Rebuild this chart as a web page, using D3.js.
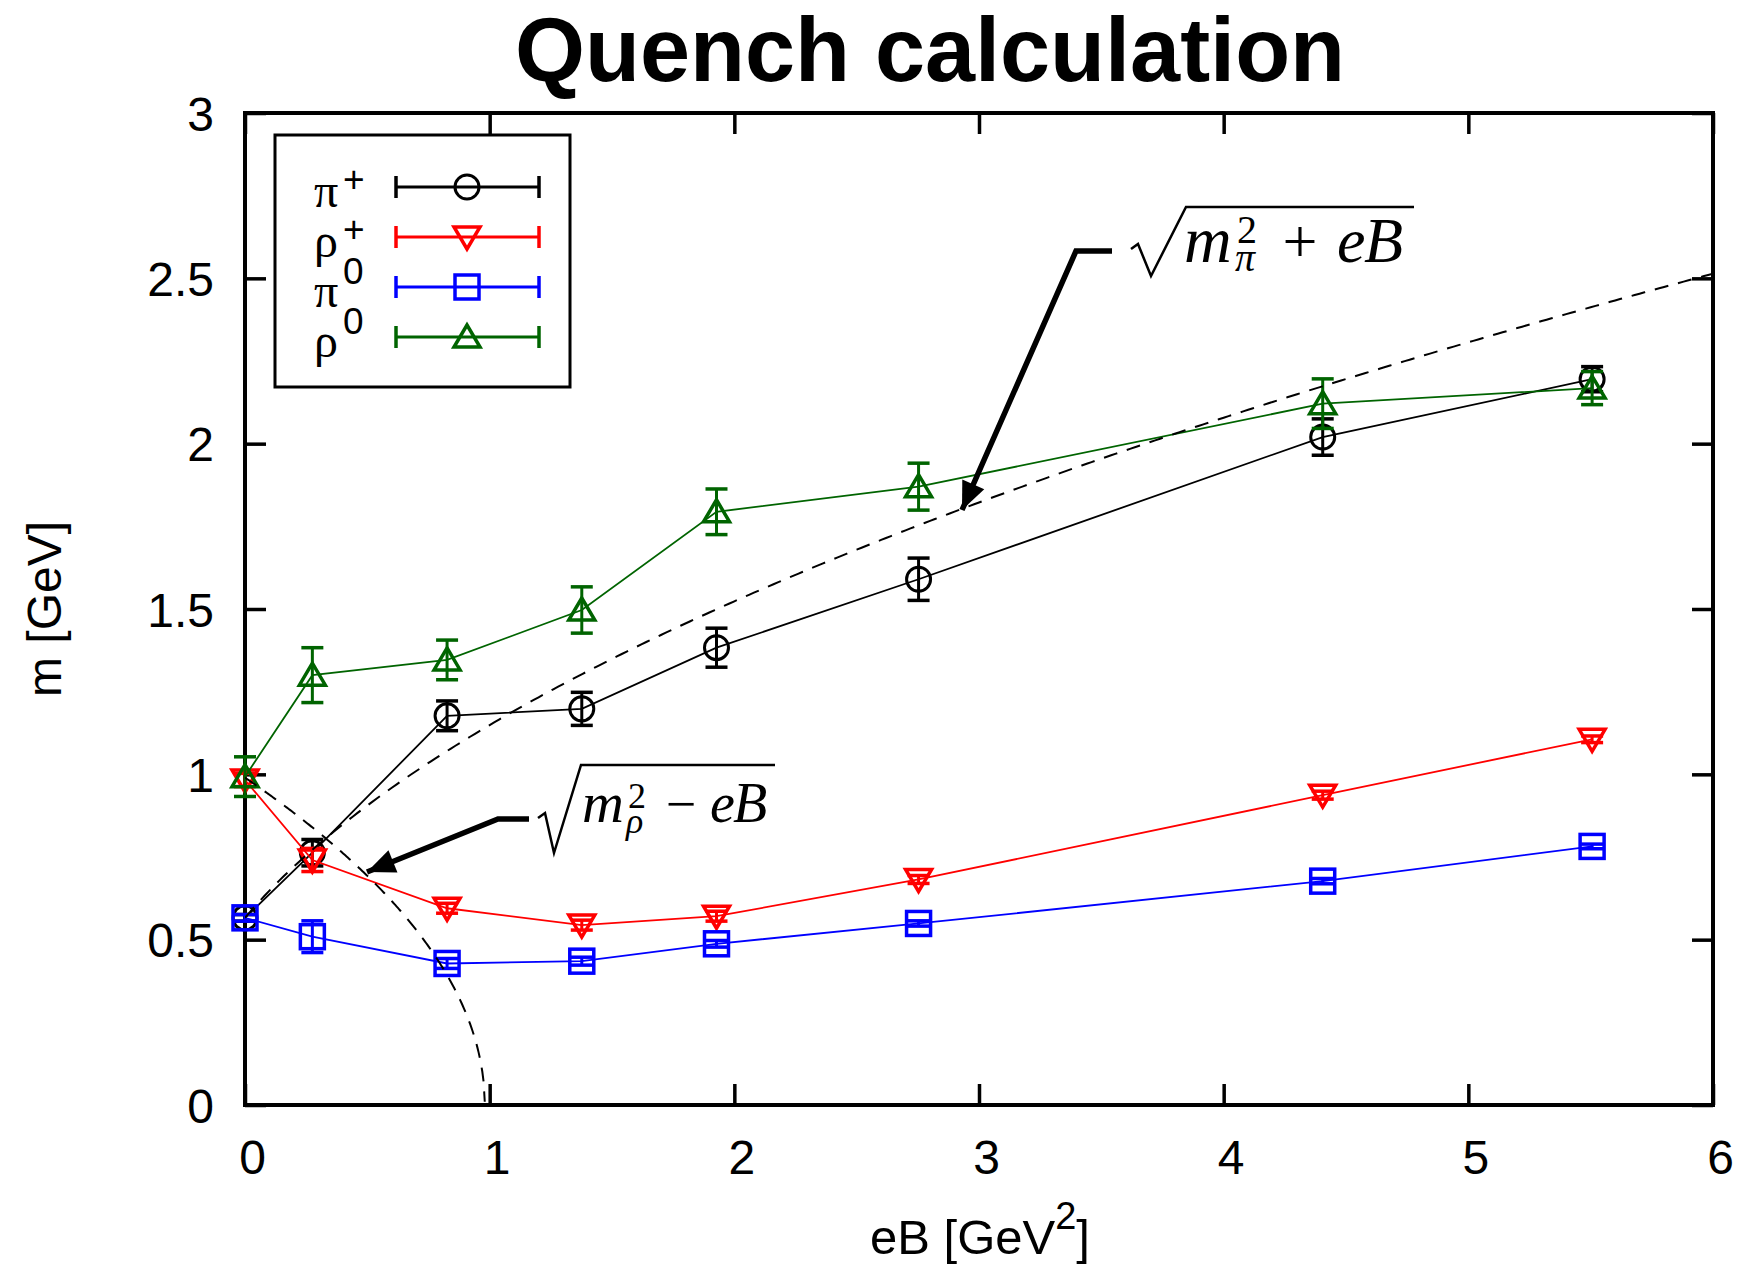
<!DOCTYPE html>
<html>
<head>
<meta charset="utf-8">
<script src="https://cdn.jsdelivr.net/npm/d3@7"></script>
<style>
  body { margin: 0; background: #fff; }
  text { font-family: "Liberation Sans", Arial, Helvetica, sans-serif; }
  .math { font-family: "Liberation Serif", "Times New Roman", serif; }
</style>
</head>
<body>
<svg id="chart" width="1742" height="1264"></svg>
<script>
// magnetic field values (multiples of the flux quantum)
const eB = [0, 0.2753, 0.8259, 1.3765, 1.9271, 2.753, 4.4048, 5.5059]

const piPlus = [0.566, 0.763, 1.177, 1.198, 1.383, 1.590, 2.020, 2.195]
const piPlusErr = [0.01, 0.04, 0.045, 0.05, 0.059, 0.064, 0.055, 0.038]
const rhoPlus = [0.983, 0.741, 0.595, 0.544, 0.571, 0.682, 0.937, 1.106]
const rhoPlusErr = [0.02, 0.035, 0.015, 0.015, 0.015, 0.012, 0.012, 0.01]
const pi0 = [0.566, 0.509, 0.428, 0.435, 0.4875, 0.549, 0.677, 0.782]
const pi0Err = [0.01, 0.048, 0.015, 0.012, 0.01, 0.008, 0.008, 0.007]
const rho0 = [0.993, 1.300, 1.346, 1.497, 1.794, 1.870, 2.121, 2.168]
const rho0Err = [0.06, 0.083, 0.06, 0.07, 0.069, 0.071, 0.075, 0.05]

const legendNames = ["π", "ρ", "π", "ρ"]
const legendSups = ["+", "+", "0", "0"]

const xTicks = [0, 1, 2, 3, 4, 5, 6]
const yTicks = [0, 0.5, 1, 1.5, 2, 2.5, 3]

// masses used in the free-particle curves
const mPi = 0.566
const mRho = 0.99

const series = [
  { values: piPlus, errs: piPlusErr, color: "#000000", marker: "circle" },
  { values: rhoPlus, errs: rhoPlusErr, color: "#ff0000", marker: "tridown" },
  { values: pi0, errs: pi0Err, color: "#0000ff", marker: "square" },
  { values: rho0, errs: rho0Err, color: "#006400", marker: "triup" },
]

const svg = d3.select("#chart")
const plotL = 245, plotR = 1713, plotT = 113, plotB = 1105

const x = d3.scaleLinear().domain([0, 6]).range([plotL, plotR])
const y = d3.scaleLinear().domain([0, 3]).range([plotB, plotT])

svg.append("defs").append("clipPath").attr("id", "plotclip")
  .append("rect")
  .attr("x", plotL).attr("y", plotT)
  .attr("width", plotR - plotL).attr("height", plotB - plotT)

// Title
svg.append("text")
  .text("Quench calculation")
  .attr("x", 930).attr("y", 81)
  .attr("text-anchor", "middle")
  .attr("font-size", 90)
  .attr("font-weight", "bold")

// Axes (ticks point inward, mirrored)
const fmt = d3.format("~g")
const tickLen = 21

const gx = svg.append("g").attr("transform", `translate(0,${plotB})`)
  .call(d3.axisBottom(x).tickValues(xTicks).tickSize(-tickLen).tickFormat(fmt))
gx.selectAll("text")
  .attr("y", 69).attr("dy", null).attr("dx", 7)
  .attr("font-size", 48).attr("fill", "#000")

svg.append("g").attr("transform", `translate(0,${plotT})`)
  .call(d3.axisTop(x).tickValues(xTicks).tickSize(-tickLen).tickFormat(""))

const gy = svg.append("g").attr("transform", `translate(${plotL},0)`)
  .call(d3.axisLeft(y).tickValues(yTicks).tickSize(-tickLen).tickFormat(fmt))
gy.selectAll("text")
  .attr("x", -31).attr("dy", "0.36em")
  .attr("font-size", 48).attr("fill", "#000")

svg.append("g").attr("transform", `translate(${plotR},0)`)
  .call(d3.axisRight(y).tickValues(yTicks).tickSize(-tickLen).tickFormat(""))

svg.selectAll(".domain").remove()
svg.selectAll(".tick line").attr("stroke", "#000").attr("stroke-width", 3.5)

// Frame
svg.append("rect")
  .attr("x", plotL).attr("y", plotT)
  .attr("width", plotR - plotL).attr("height", plotB - plotT)
  .attr("fill", "none").attr("stroke", "#000").attr("stroke-width", 4)

// Axis labels
svg.append("text")
  .text("m [GeV]")
  .attr("transform", "translate(44,609) rotate(-90)")
  .attr("text-anchor", "middle")
  .attr("dy", "0.36em")
  .attr("font-size", 48)

const xl = svg.append("text")
  .attr("x", 980).attr("y", 1254)
  .attr("text-anchor", "middle")
  .attr("font-size", 49)
xl.append("tspan").text("eB [GeV")
xl.append("tspan").text("2").attr("font-size", 38).attr("dy", -25)
xl.append("tspan").text("]").attr("dy", 25)

function drawMarker(g, type, cx, cy, color) {
  if (type === "circle") {
    g.append("circle").attr("cx", cx).attr("cy", cy).attr("r", 12)
      .attr("fill", "none").attr("stroke", color).attr("stroke-width", 3)
  } else if (type === "square") {
    g.append("rect").attr("x", cx - 12).attr("y", cy - 12)
      .attr("width", 24).attr("height", 24)
      .attr("fill", "none").attr("stroke", color).attr("stroke-width", 3.5)
  } else if (type === "tridown") {
    g.append("path")
      .attr("d", `M${cx - 13},${cy - 10}L${cx + 13},${cy - 10}L${cx},${cy + 12}Z`)
      .attr("fill", "none").attr("stroke", color).attr("stroke-width", 3.5)
  } else if (type === "triup") {
    g.append("path")
      .attr("d", `M${cx - 13},${cy + 10}L${cx + 13},${cy + 10}L${cx},${cy - 12}Z`)
      .attr("fill", "none").attr("stroke", color).attr("stroke-width", 3.5)
  }
}

function drawErrorBar(g, cx, y1, y2, color) {
  g.append("line").attr("x1", cx).attr("x2", cx).attr("y1", y1).attr("y2", y2)
    .attr("stroke", color).attr("stroke-width", 3)
  ;[y1, y2].forEach(yy => {
    g.append("line").attr("x1", cx - 11).attr("x2", cx + 11).attr("y1", yy).attr("y2", yy)
      .attr("stroke", color).attr("stroke-width", 3.5)
  })
}

// Data series
const line = d3.line().x(d => x(d[0])).y(d => y(d[1]))

series.forEach(s => {
  const g = svg.append("g")
  const pts = eB.map((e, i) => [e, s.values[i], s.errs[i]])
  g.append("path")
    .attr("d", line(pts))
    .attr("fill", "none").attr("stroke", s.color).attr("stroke-width", 1.8)
  pts.forEach(p => {
    drawErrorBar(g, x(p[0]), y(p[1] - p[2]), y(p[1] + p[2]), s.color)
    drawMarker(g, s.marker, x(p[0]), y(p[1]), s.color)
  })
})

// Free-particle curves
const dashed = svg.append("g").attr("clip-path", "url(#plotclip)")
const piCurve = d3.range(0, 6.001, 0.02).map(b => [b, Math.sqrt(mPi * mPi + b)])
const rhoCurve = d3.range(0, mRho * mRho, 0.005).map(b => [b, Math.sqrt(mRho * mRho - b)])
;[piCurve, rhoCurve].forEach(c => {
  dashed.append("path")
    .attr("d", line(c))
    .attr("fill", "none").attr("stroke", "#000").attr("stroke-width", 2)
    .attr("stroke-dasharray", "14,10")
})

// Arrows with a short horizontal lead
function arrow(pts) {
  svg.append("path")
    .attr("d", "M" + pts.map(p => p.join(",")).join("L"))
    .attr("fill", "none").attr("stroke", "#000").attr("stroke-width", 5.5)
  const [a, b] = pts.slice(-2)
  const dx = b[0] - a[0], dy = b[1] - a[1]
  const len = Math.hypot(dx, dy)
  const ux = dx / len, uy = dy / len
  const bx = b[0] - 28 * ux, by = b[1] - 28 * uy
  svg.append("path")
    .attr("d", `M${b[0]},${b[1]}L${bx - 12 * uy},${by + 12 * ux}L${bx + 12 * uy},${by - 12 * ux}Z`)
    .attr("fill", "#000")
}
arrow([[1112, 251], [1076, 251], [962, 510]])
arrow([[529, 819], [498, 819], [367, 872]])

// Math labels
function mathLabel(o) {
  const g = svg.append("g").attr("class", "math")
  g.append("path")
    .attr("d", o.radical)
    .attr("fill", "none").attr("stroke", "#000").attr("stroke-width", 2.5)
    .attr("stroke-linejoin", "miter")
  o.parts.forEach(p => {
    g.append("text").attr("class", "math")
      .text(p.t).attr("x", p.x).attr("y", p.y)
      .attr("font-size", p.s)
      .attr("font-style", p.i ? "italic" : "normal")
      .attr("text-anchor", p.a || "start")
  })
}

mathLabel({
  radical: "M1131,249L1138,244L1151,276L1186,207L1414,207",
  parts: [
    { t: "m", x: 1184, y: 262, s: 66, i: true },
    { t: "2", x: 1237, y: 243, s: 40 },
    { t: "π", x: 1235, y: 271, s: 40, i: true },
    { t: "+", x: 1300, y: 262, s: 62, a: "middle" },
    { t: "e", x: 1337, y: 262, s: 64, i: true },
    { t: "B", x: 1364, y: 262, s: 64, i: true },
  ],
})

mathLabel({
  radical: "M538,818L545,813L554,853L581,765L775,765",
  parts: [
    { t: "m", x: 582, y: 822, s: 58, i: true },
    { t: "2", x: 628, y: 808, s: 36 },
    { t: "ρ", x: 626, y: 833, s: 36, i: true },
    { t: "−", x: 681, y: 822, s: 54, a: "middle" },
    { t: "e", x: 710, y: 822, s: 56, i: true },
    { t: "B", x: 733, y: 822, s: 56, i: true },
  ],
})

// Legend
svg.append("rect")
  .attr("x", 275).attr("y", 135).attr("width", 295).attr("height", 252)
  .attr("fill", "#fff").attr("stroke", "#000").attr("stroke-width", 3)

series.forEach((s, i) => {
  const ry = 187 + i * 50
  const g = svg.append("g")
  g.append("line").attr("x1", 396).attr("x2", 539).attr("y1", ry).attr("y2", ry)
    .attr("stroke", s.color).attr("stroke-width", 3)
  ;[396, 539].forEach(xx => {
    g.append("line").attr("x1", xx).attr("x2", xx).attr("y1", ry - 11).attr("y2", ry + 11)
      .attr("stroke", s.color).attr("stroke-width", 3.5)
  })
  drawMarker(g, s.marker, 467, ry, s.color)

  g.append("text").text(legendNames[i])
    .attr("class", "math")
    .attr("x", 314).attr("y", ry + 20).attr("font-size", 48)
  g.append("text").text(legendSups[i])
    .attr("x", 343).attr("y", ry + (legendSups[i] === "+" ? 5 : -3)).attr("font-size", 37)
})
</script>
</body>
</html>
